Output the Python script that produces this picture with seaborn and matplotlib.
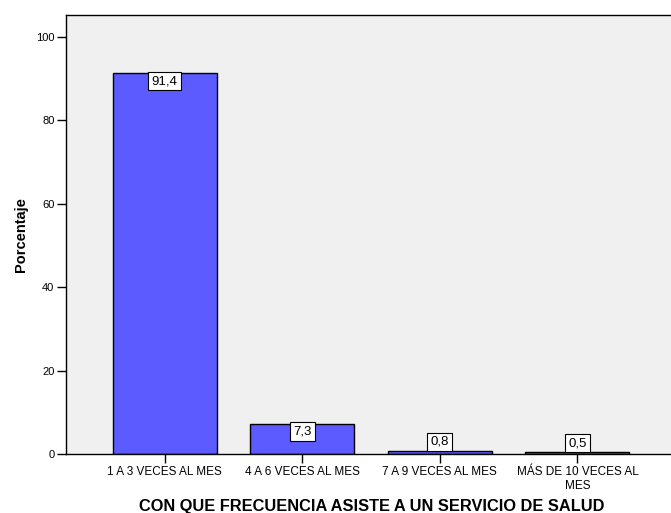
import matplotlib
matplotlib.use("Agg")
import matplotlib.pyplot as plt
import seaborn as sns
import pandas as pd

categorias = ["1 A 3 VECES AL MES", "4 A 6 VECES AL MES", "7 A 9 VECES AL MES",
              "MÁS DE 10 VECES AL\nMES"]
porcentajes = [91.4, 7.3, 0.8, 0.5]
etiquetas = ["91,4", "7,3", "0,8", "0,5"]
y_ticks = [0, 20, 40, 60, 80, 100]

sns.set_style("white")
plt.rcParams["font.family"] = ["Liberation Sans", "DejaVu Sans"]
for k in ["text.color", "axes.labelcolor", "xtick.color", "ytick.color"]:
    plt.rcParams[k] = "black"

df = pd.DataFrame({"cat": categorias, "pct": porcentajes})

fig = plt.figure(figsize=(6.71, 5.13), dpi=100)
ax = fig.add_axes([65.5 / 671, 59 / 513, 1 - 65.5 / 671, (454 - 15) / 513])
ax.set_facecolor("#F0F0F0")

sns.barplot(data=df, x="cat", y="pct", color="#5B5BFF", saturation=1,
            edgecolor="black", linewidth=1, width=0.755, ax=ax)

ax.set_xlim(-0.72, 3.68)
ax.set_ylim(0, 105.3)
ax.set_yticks(y_ticks)
ax.set_yticklabels([str(t) for t in y_ticks], fontsize=8)
ax.tick_params(axis="both", direction="out", length=6.5, width=1, color="black",
               pad=1.5, left=True, bottom=True)
ax.tick_params(axis="x", labelsize=8.5, pad=2)

for s in ["left", "bottom", "top"]:
    ax.spines[s].set_visible(True)
    ax.spines[s].set_color("black")
    ax.spines[s].set_linewidth(1)
ax.spines["right"].set_visible(False)

ax.set_xlabel("")
fig.text(371.5 / 671, (513 - 506) / 513,
         "CON QUE FRECUENCIA ASISTE A UN SERVICIO DE SALUD",
         fontsize=11.8, fontweight="bold", ha="center", va="center")
ax.set_ylabel("Porcentaje", fontsize=10.5, fontweight="bold", labelpad=6)

for i, (v, t) in enumerate(zip(porcentajes, etiquetas)):
    if v > 5:
        va, off = "top", -1.5
    else:
        va, off = "bottom", 2
    ax.annotate(t, (i, v), xytext=(0, off), textcoords="offset points",
                ha="center", va=va, fontsize=9.5,
                bbox=dict(boxstyle="square,pad=0.25", fc="white", ec="black", lw=0.8))

fig.savefig("out.png", dpi=100)
